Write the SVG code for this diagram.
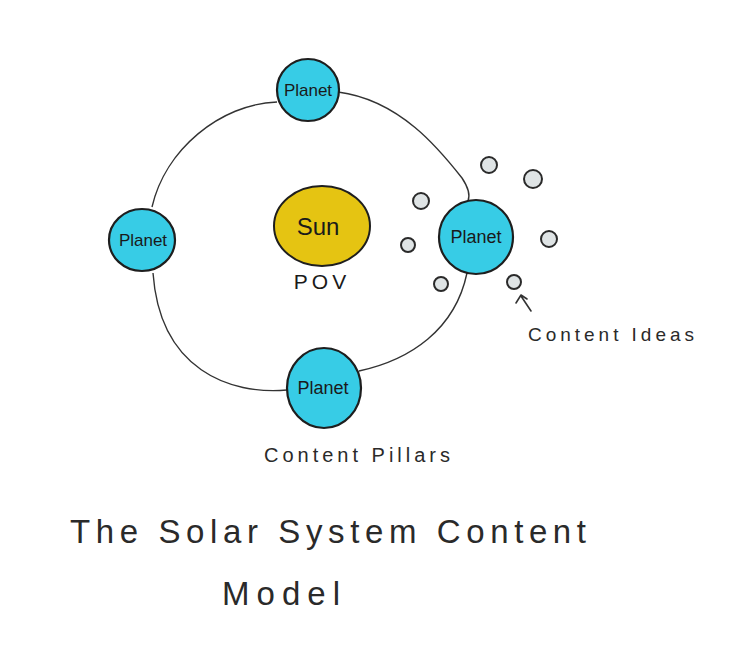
<svg xmlns="http://www.w3.org/2000/svg" width="752" height="665" viewBox="0 0 752 665">
<defs>
<style>
.planet{fill:#37cce6;stroke:#1e1e1e;stroke-width:2.2}
.sun{fill:#e5c412;stroke:#1e1e1e;stroke-width:2}
.idea{fill:#dfe4e5;stroke:#2a2a2a;stroke-width:2}
.orbit{fill:none;stroke:#333;stroke-width:1.4}
.lbl{font-family:"Liberation Sans",Arial,sans-serif;fill:#1a1a1a;text-anchor:middle}
.note{font-family:"Liberation Sans",Arial,sans-serif;fill:#2a2a2a}
</style>
</defs>
<rect width="752" height="665" fill="#ffffff"/>
<g id="connectors">
<path class="orbit" d="M152,207 C165,150 220,104 277,102"/>
<path class="orbit" d="M338,92 C400,100 440,150 462,178 C470,190 470,196 468,201"/>
<path class="orbit" d="M467,273 C455,330 410,360 359,371"/>
<path class="orbit" d="M287,390 C230,395 160,370 153,273"/>
<path d="M516,303 L521,295 L527,299 M521,296 L531,311" fill="none" stroke="#333" stroke-width="1.6" stroke-linecap="round" stroke-linejoin="round"/>
</g>
<g id="planet-top">
<circle class="planet" cx="308" cy="90" r="31"/>
<text class="lbl" x="308" y="96" font-size="17">Planet</text>
</g>
<g id="planet-left">
<ellipse class="planet" cx="142" cy="240" rx="33" ry="31"/>
<text class="lbl" x="143" y="246" font-size="17">Planet</text>
</g>
<g id="sun">
<ellipse class="sun" cx="322" cy="226" rx="48" ry="40"/>
<text class="lbl" x="318" y="235" font-size="24">Sun</text>
<text class="lbl" x="322" y="289" font-size="21" letter-spacing="4" fill="#333">POV</text>
</g>
<g id="planet-right">
<circle class="planet" cx="476" cy="237" r="37"/>
<text class="lbl" x="476" y="243" font-size="18">Planet</text>
</g>
<g id="planet-bottom">
<ellipse class="planet" cx="324" cy="388" rx="37" ry="40"/>
<text class="lbl" x="323" y="394" font-size="18">Planet</text>
</g>
<g id="content-ideas">
<circle class="idea" cx="489" cy="165" r="8"/>
<circle class="idea" cx="533" cy="179" r="9"/>
<circle class="idea" cx="421" cy="201" r="8"/>
<circle class="idea" cx="408" cy="245" r="7"/>
<circle class="idea" cx="549" cy="239" r="8"/>
<circle class="idea" cx="441" cy="284" r="7"/>
<circle class="idea" cx="514" cy="282" r="7"/>
</g>
<g id="labels">
<text class="note" x="528" y="341" font-size="19" textLength="166">Content Ideas</text>
<text class="note" x="264" y="462" font-size="20" textLength="186">Content Pillars</text>
<text class="note" x="70" y="543" font-size="33" textLength="516">The Solar System Content</text>
<text class="note" x="222" y="605" font-size="33" textLength="118">Model</text>
</g>
</svg>
